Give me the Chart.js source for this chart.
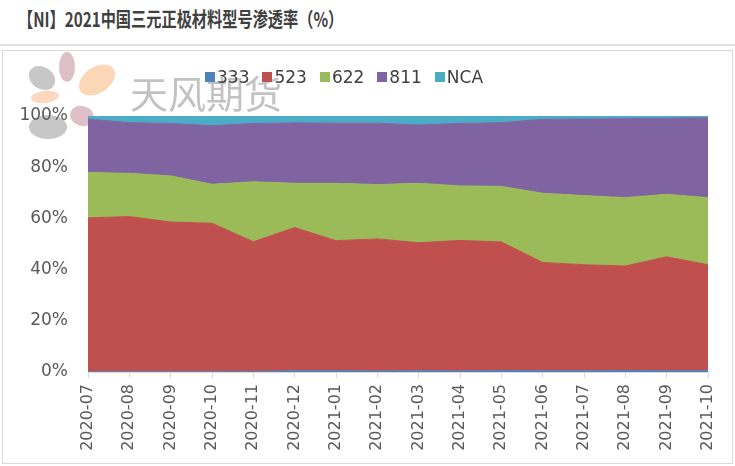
<!DOCTYPE html>
<html>
<head>
<meta charset="utf-8">
<script src="https://cdn.jsdelivr.net/npm/chart.js@4.4.0/dist/chart.umd.min.js"></script>
<style>
  body { margin: 0; background: #fff; width: 735px; height: 466px; overflow: hidden; position: relative; font-family: "Noto Sans CJK SC", "Noto Sans", sans-serif; }
  #title { position: absolute; left: 18px; top: 4px; font-size: 20px; font-weight: bold; color: #404040; transform: scaleX(0.76); transform-origin: left top; white-space: nowrap; }
  #rule { position: absolute; left: 0; top: 44px; width: 735px; height: 2px; background: #e0e0e0; }
  #box { position: absolute; left: 2px; top: 50px; width: 729px; height: 412px; border: 1px solid #d9d9d9; }
  #legend { position: absolute; top: 67px; left: 205px; display: flex; font-family: "DejaVu Sans", sans-serif; font-size: 17px; color: #404040; }
  #legend span.item { display: flex; align-items: center; margin-right: 13px; }
  #legend i { display: inline-block; width: 10px; height: 10px; margin-right: 2px; }
  canvas { position: absolute; left: 0; top: 0; }
</style>
</head>
<body>
<div id="title">【NI】2021中国三元正极材料型号渗透率（%）</div>
<div id="rule"></div>
<div id="box"></div>
<canvas id="chart" width="735" height="466"></canvas>
<div id="legend"></div>
<script>
// --- data ---
const months = ['2020-07', '2020-08', '2020-09', '2020-10', '2020-11', '2020-12',
    '2021-01', '2021-02', '2021-03', '2021-04', '2021-05', '2021-06',
    '2021-07', '2021-08', '2021-09', '2021-10'];
const s333 = [0.1, 0.1, 0.1, 0.1, 0.2, 0.5, 0.5, 0.4, 0.5, 0.4, 0.6, 0.5, 0.5, 0.6, 0.5, 0.5];
const s523 = [60.1, 60.6, 58.5, 58.0, 50.7, 55.9, 50.8, 51.6, 50.0, 51.0, 50.2, 42.3, 41.4, 40.8, 44.5, 41.4];
const s622 = [17.7, 16.9, 18.0, 15.2, 23.4, 17.3, 22.4, 21.2, 23.2, 21.3, 21.7, 27.0, 27.0, 26.7, 24.4, 26.2];
const s811 = [20.9, 19.8, 20.5, 22.9, 22.8, 23.6, 23.5, 24.0, 22.8, 24.4, 24.9, 28.9, 29.9, 30.9, 29.7, 31.2];
const sNCA = [1.2, 2.6, 2.9, 3.8, 2.9, 2.7, 2.8, 2.8, 3.5, 2.9, 2.6, 1.3, 1.2, 1.0, 0.9, 0.7];
const yTicks = [0, 20, 40, 60, 80, 100];

const series = [
    { name: '333', data: s333, color: '#4F81BD' },
    { name: '523', data: s523, color: '#C0504D' },
    { name: '622', data: s622, color: '#9BBB59' },
    { name: '811', data: s811, color: '#8064A2' },
    { name: 'NCA', data: sNCA, color: '#4BACC6' }
];

// --- legend (html) ---
const legendEl = document.getElementById('legend');
series.forEach(s => {
    const item = document.createElement('span');
    item.className = 'item';
    item.innerHTML = `<i style="background:${s.color}"></i>${s.name}`;
    legendEl.appendChild(item);
});

// faint company watermark, drawn behind the plot
const watermark = {
    id: 'watermark',
    beforeDraw(chart) {
        const ctx = chart.ctx;
        ctx.save();
        ctx.globalAlpha = 0.5;
        const petals = [
            [67, 67, 8, 15, 0, '#c08090'],
            [42, 78, 14, 11, 0.6, '#909090'],
            [97, 80, 20, 13, -0.6, '#f8b070'],
            [45, 97, 14, 6, -0.1, '#f8b080'],
            [82, 116, 12, 10, 0.3, '#c08090'],
            [48, 127, 19, 12, 0, '#909090']
        ];
        petals.forEach(p => {
            ctx.fillStyle = p[5];
            ctx.beginPath();
            ctx.ellipse(p[0], p[1], p[2], p[3], p[4], 0, Math.PI * 2);
            ctx.fill();
        });
        ctx.globalAlpha = 0.6;
        ctx.fillStyle = '#9a9a9a';
        ctx.font = '38px "Noto Sans CJK SC"';
        ctx.textBaseline = 'middle';
        ctx.fillText('天风期货', 130, 94);
        ctx.restore();
    }
};

new Chart(document.getElementById('chart'), {
    type: 'line',
    data: {
        labels: months,
        datasets: series.map((s, i) => ({
            label: s.name,
            data: s.data,
            backgroundColor: s.color,
            borderColor: s.color,
            borderWidth: 1,
            pointRadius: 0,
            tension: 0,
            fill: i === 0 ? 'origin' : '-1'
        }))
    },
    options: {
        responsive: false,
        animation: false,
        layout: { padding: { left: 8, right: 27, top: 116, bottom: 0 } },
        plugins: { legend: { display: false }, tooltip: { enabled: false } },
        scales: {
            x: {
                offset: false,
                grid: { drawOnChartArea: false, drawTicks: true, tickLength: 6, color: '#d9d9d9' },
                border: { color: '#d9d9d9' },
                ticks: {
                    minRotation: 90, maxRotation: 90, autoSkip: false,
                    color: '#595959', padding: 6,
                    font: { family: 'DejaVu Sans', size: 16 }
                },
                afterFit(scale) { scale.height = 94; }
            },
            y: {
                stacked: true,
                min: 0, max: 100,
                afterBuildTicks(scale) { scale.ticks = yTicks.map(v => ({ value: v })); },
                grid: { display: false },
                border: { display: false },
                ticks: {
                    color: '#595959', padding: 12,
                    font: { family: 'DejaVu Sans', size: 17 },
                    callback: v => v + '%'
                },
                afterFit(scale) { scale.width = 80; }
            }
        }
    },
    plugins: [watermark]
});
</script>
</body>
</html>
